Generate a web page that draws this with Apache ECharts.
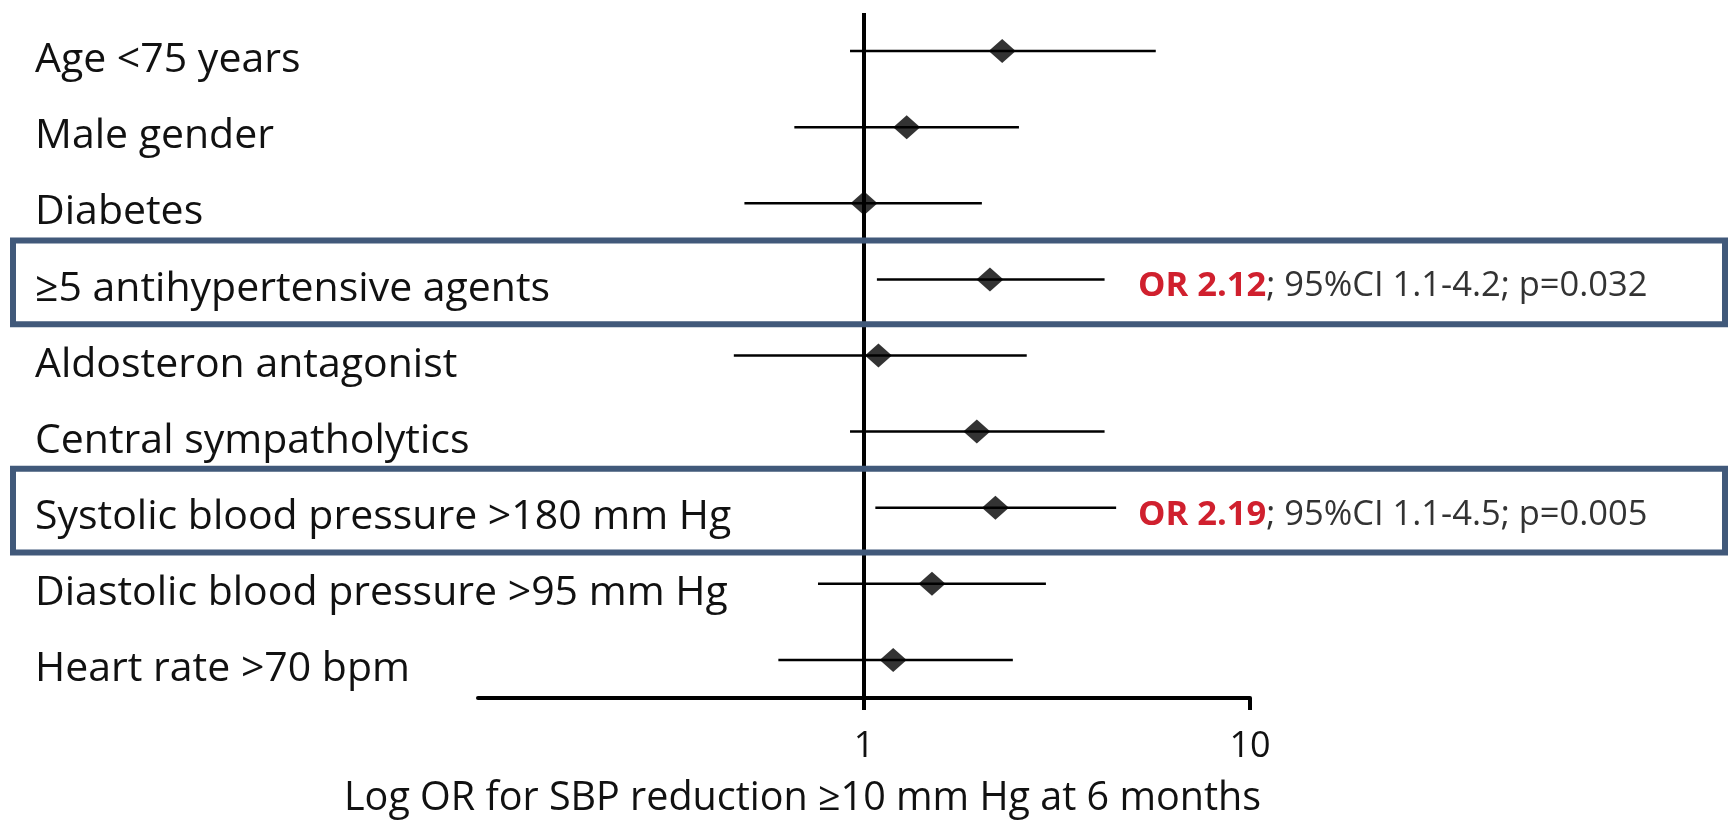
<!DOCTYPE html>
<html><head><meta charset="utf-8">
<script src="https://cdn.jsdelivr.net/npm/echarts@6/dist/echarts.min.js"></script>
<style>html,body{margin:0;padding:0;background:#fff;}#c{width:1731px;height:820px;}</style>
</head><body><div id="c"></div>
<script>
const categories = [
  'Age <75 years',
  'Male gender',
  'Diabetes',
  '\u22655 antihypertensive agents',
  'Aldosteron antagonist',
  'Central sympatholytics',
  'Systolic blood pressure >180 mm Hg',
  'Diastolic blood pressure >95 mm Hg',
  'Heart rate >70 bpm'
];
const orValues = [2.28, 1.29, 1.00, 2.12, 1.09, 1.96, 2.19, 1.50, 1.19];
const ciLower  = [0.92, 0.66, 0.49, 1.08, 0.46, 0.92, 1.07, 0.76, 0.60];
const ciUpper  = [5.70, 2.52, 2.02, 4.20, 2.64, 4.20, 4.50, 2.96, 2.43];
const highlightRows = [3, 6];
const annotationOR   = ['OR 2.12', 'OR 2.19'];
const annotationRest = ['; 95%CI 1.1-4.2; p=0.032', '; 95%CI 1.1-4.5; p=0.005'];
const xTickValues = [1, 10];
const xAxisTitle = 'Log OR for SBP reduction \u226510 mm Hg at 6 months';

const FONT = 'Open Sans';
const chart = echarts.init(document.getElementById('c'));

const ciData = categories.map((c, i) => [ciLower[i], ciUpper[i], i]);
const pointData = categories.map((c, i) => [orValues[i], i]);
const boxData = highlightRows.map((r, k) => [orValues[r], r, k]);

chart.setOption({
  animation: false,
  backgroundColor: '#fff',
  grid: { left: 478, right: 481, top: 13, bottom: 122, containLabel: false },
  title: {
    text: xAxisTitle,
    left: 339, top: 774,
    textStyle: { fontFamily: FONT, fontSize: 39.5, fontWeight: 'normal', color: '#111' }
  },
  xAxis: {
    type: 'log', logBase: 10, min: 0.1, max: 10,
    axisLine: { show: true, lineStyle: { color: '#000', width: 4 } },
    axisTick: { show: true, customValues: xTickValues, length: 12, inside: false, lineStyle: { color: '#000', width: 4 } },
    axisLabel: { show: true, customValues: xTickValues, margin: 31, fontFamily: FONT, fontSize: 36, color: '#111',
      formatter: v => String(Math.round(v)) },
    splitLine: { show: false },
    minorTick: { show: false }
  },
  yAxis: {
    type: 'category', inverse: true, data: categories,
    axisLine: { show: false }, axisTick: { show: false }, splitLine: { show: false },
    axisLabel: {
      align: 'left', margin: 443, fontFamily: FONT, fontSize: 41, color: '#111',
      formatter: v => '{t|' + v + '}',
      rich: { t: { fontFamily: FONT, fontSize: 41, color: '#111', padding: [19, 0, 0, 0] } }
    }
  },
  series: [
    {
      type: 'custom', name: 'ci', data: ciData,
      encode: { x: [0, 1], y: 2 },
      renderItem: (params, api) => {
        const y = api.value(2);
        const p1 = api.coord([api.value(0), y]);
        const p2 = api.coord([api.value(1), y]);
        return { type: 'line', shape: { x1: p1[0], y1: p1[1], x2: p2[0], y2: p2[1] },
          style: { stroke: '#000', lineWidth: 2.5 } };
      },
      z: 2
    },
    {
      type: 'scatter', name: 'or', data: pointData,
      symbol: 'diamond', symbolSize: [27, 24],
      itemStyle: { color: '#000' },
      z: 4,
      markLine: {
        silent: true, symbol: 'none',
        lineStyle: { color: '#000', width: 4, type: 'solid' },
        label: { show: false },
        data: [{ xAxis: 1 }]
      }
    },
    {
      type: 'custom', name: 'boxes', data: boxData, clip: false,
      encode: { x: 0, y: 1 },
      renderItem: (params, api) => {
        const row = api.value(1);
        const k = api.value(2);
        const c = api.coord([1, row]);
        const band = api.size([0, 1])[1];
        const h = band * 1.1;
        const cy = c[1] + 3;
        return {
          type: 'group',
          children: [
            { type: 'rect', shape: { x: 13, y: cy - h / 2, width: 1712, height: h },
              style: { fill: 'none', stroke: '#41597a', lineWidth: 6 } },
            { type: 'text', x: 1138, y: c[1] + 7,
              style: {
                text: '{r|' + annotationOR[k] + '}{g|' + annotationRest[k] + '}',
                verticalAlign: 'middle', align: 'left',
                rich: {
                  r: { fontFamily: FONT, fontSize: 34.5, fontWeight: 'bold', fill: '#d0202e', color: '#d0202e' },
                  g: { fontFamily: FONT, fontSize: 34.5, fill: '#333', color: '#333' }
                }
              } }
          ]
        };
      },
      z: 6
    }
  ]
});
</script></body></html>
